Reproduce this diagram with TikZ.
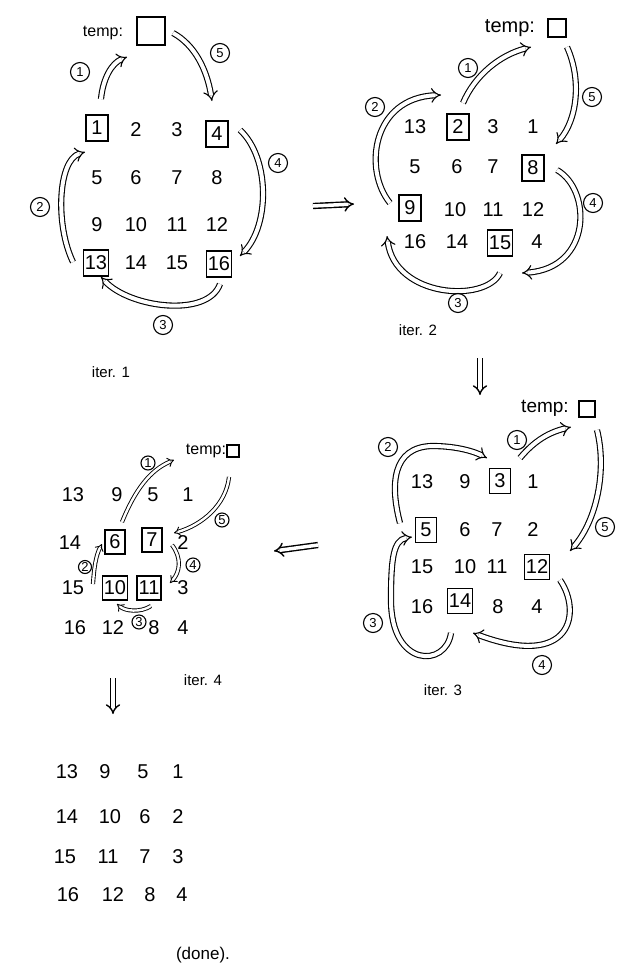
\documentclass[tikz,border=0pt]{standalone}
\usepackage{fontspec}
\setmainfont{Liberation Sans}
\usetikzlibrary{arrows.meta}
\begin{document}
\begin{tikzpicture}[x=1pt,y=-1pt,
  num/.style={font=\fontsize{20}{22}\selectfont, inner sep=0pt},
  boxed/.style={num, draw, line width=1.3pt, inner xsep=1.5pt, minimum width=#1, minimum height=#1+4pt},
  boxed/.default=22pt,
  tmpbox/.style={draw, line width=1.3pt, minimum size=#1, inner sep=0pt},
  lbl/.style={font=\fontsize{#1}{#1}\selectfont, inner sep=0pt},
  circ/.style={circle, draw, line width=1.1pt, inner sep=0pt, minimum size=#1, font=\fontsize{13}{14}\selectfont},
  circ/.default=19pt,
  flow/.style={double, double distance=4pt, line width=1.1pt, -{Implies[length=6pt]}},
  thinflow/.style={double, double distance=2.4pt, line width=0.9pt, -{Implies}},
  stepflow/.style={double, double distance=3.5pt, line width=1.4pt, -{Implies}}
]
\fill[white] (0,0) rectangle (631,980);
\useasboundingbox (0,0) rectangle (631,980);

% ================= iter 1 =================
\node[lbl=16] (t1) at (103,33) {temp:};
\node[tmpbox=28pt] (tb1) at (151,31) {};
\foreach \v/\x/\y in {2/136/130,3/177/130,5/97/178,6/136/178,7/177/178,8/217/178,
  9/97/225,10/136/225,11/177/225,12/217/225,14/136/263,15/177/263}
  \node[num] (g1v\v) at (\x,\y) {\v};
\foreach \v/\x/\y in {1/97/128,4/217/134,13/96/263,16/219/264}
  \node[boxed] (g1v\v) at (\x,\y) {\v};
\coordinate (i1a) at (101,99);  \coordinate (i1b) at (127,57);
\coordinate (i5a) at (173,33);  \coordinate (i5b) at (212,101);
\coordinate (i4a) at (240,130); \coordinate (i4b) at (240,256);
\coordinate (i3a) at (220,284); \coordinate (i3b) at (101,277);
\coordinate (i2a) at (73,262);  \coordinate (i2b) at (85,152);
\draw[flow] (i1a) .. controls (103,78) and (112,63) .. (i1b);
\draw[flow] (i5a) .. controls (195,45) and (207,70) .. (i5b);
\draw[flow] (i4a) .. controls (270,158) and (270,225) .. (i4b);
\draw[flow] (i3a) .. controls (208,318) and (130,308) .. (i3b);
\draw[flow] (i2a) .. controls (55,225) and (58,160) .. (i2b);
\node[circ] (c11) at (80,72) {1};
\node[circ] (c15) at (220,53) {5};
\node[circ] (c14) at (278,163) {4};
\node[circ] (c13) at (163,325) {3};
\node[circ] (c12) at (40,207) {2};
\node[lbl=15] (it1) at (111,372) {iter. 1};

% ================= iter 2 =================
\node[lbl=20] (t2) at (510,28) {temp:};
\node[tmpbox=18pt] (tb2) at (557,28) {};
\foreach \v/\x/\y in {13/415/127,3/493/127,1/533/127,5/415/167,6/457/167,7/493/167,
  10/455/210,11/493/210,12/533/210,16/415/242,14/457/242,4/537/242}
  \node[num] (g2v\v) at (\x,\y) {\v};
\foreach \v/\x/\y in {2/458/127,8/533/168,9/410/208,15/500/243}
  \node[boxed] (g2v\v) at (\x,\y) {\v};
\coordinate (j1a) at (463,103); \coordinate (j1b) at (531,47);
\coordinate (j5a) at (567,47);  \coordinate (j5b) at (556,144);
\coordinate (j4a) at (557,170); \coordinate (j4b) at (522,273);
\coordinate (j3a) at (500,273); \coordinate (j3b) at (387,236);
\coordinate (j2a) at (390,203); \coordinate (j2b) at (441,95);
\draw[flow] (j1a) .. controls (475,75) and (500,55) .. (j1b);
\draw[flow] (j5a) .. controls (582,80) and (577,120) .. (j5b);
\draw[flow] (j4a) .. controls (592,190) and (592,268) .. (j4b);
\draw[flow] (j3a) .. controls (486,303) and (395,298) .. (j3b);
\draw[flow] (j2a) .. controls (363,170) and (372,98) .. (j2b);
\node[circ] (c21) at (468,68) {1};
\node[circ] (c25) at (592,97) {5};
\node[circ] (c24) at (593,203) {4};
\node[circ] (c23) at (458,303) {3};
\node[circ] (c22) at (375,107) {2};
\node[lbl=15] (it2) at (418,330) {iter. 2};

% ================= iter 3 =================
\node[lbl=19] (t3) at (545,408) {temp:};
\node[tmpbox=16pt] (tb3) at (587,409) {};
\foreach \v/\x/\y in {13/422/482,9/465/482,1/533/482,6/465/530,7/497/530,2/533/530,
  15/422/567,10/465/567,11/497/567,16/422/607,8/498/607,4/537/607}
  \node[num] (g3v\v) at (\x,\y) {\v};
\foreach \v/\x/\y in {3/500/481,5/426/530,12/537/567,14/460/601}
  \node[boxed=21pt] (g3v\v) at (\x,\y) {\v};
\coordinate (k1a) at (520,458); \coordinate (k1b) at (571,427);
\coordinate (k5a) at (597,430); \coordinate (k5b) at (570,551);
\coordinate (k4a) at (560,580); \coordinate (k4b) at (473,633);
\coordinate (k3a) at (451,633); \coordinate (k3m) at (391,600); \coordinate (k3b) at (412,537);
\coordinate (k2a) at (400,523); \coordinate (k2m) at (432,446); \coordinate (k2b) at (487,458);
\draw[flow] (k1a) .. controls (535,440) and (550,432) .. (k1b);
\draw[flow] (k5a) .. controls (607,470) and (597,520) .. (k5b);
\draw[flow] (k4a) .. controls (582,612) and (572,670) .. (k4b);
\draw[flow] (k3a) .. controls (446,668) and (391,668) .. (k3m) .. controls (391,560) and (393,540) .. (k3b);
\draw[flow] (k2a) .. controls (390,485) and (392,447) .. (k2m) .. controls (458,446) and (475,452) .. (k2b);
\node[circ] (c31) at (517,440) {1};
\node[circ] (c35) at (605,527) {5};
\node[circ] (c34) at (542,665) {4};
\node[circ] (c33) at (373,623) {3};
\node[circ] (c32) at (388,447) {2};
\node[lbl=15] (it3) at (443,690) {iter. 3};

% ================= iter 4 =================
\node[lbl=16] (t4) at (206,451) {temp:};
\node[tmpbox=12pt] (tb4) at (233,451) {};
\foreach \v/\x/\y in {13/73/495,9/117/495,5/153/495,1/188/495,14/70/543,2/183/543,
  15/73/588,3/183/588,16/75/628,12/113/628,8/154/628,4/183/628}
  \node[num] (g4v\v) at (\x,\y) {\v};
\foreach \v/\x/\y in {6/115/542,7/152/540,10/115/588,11/149/588}
  \node[boxed=20pt] (g4v\v) at (\x,\y) {\v};
\coordinate (m1a) at (122,522); \coordinate (m1b) at (174,460);
\coordinate (m5a) at (229,477); \coordinate (m5b) at (174,533);
\coordinate (m4a) at (172,545); \coordinate (m4b) at (170,583);
\coordinate (m3a) at (151,606); \coordinate (m3b) at (117,604);
\coordinate (m2a) at (93,584);  \coordinate (m2b) at (102,544);
\draw[thinflow] (m1a) .. controls (135,490) and (150,470) .. (m1b);
\draw[thinflow] (m5a) .. controls (226,505) and (202,525) .. (m5b);
\draw[thinflow] (m4a) .. controls (182,558) and (180,572) .. (m4b);
\draw[thinflow] (m3a) .. controls (140,613) and (125,611) .. (m3b);
\draw[thinflow] (m2a) .. controls (94,568) and (96,555) .. (m2b);
\node[circ=14pt] (c41) at (148,463) {1};
\node[circ=14pt] (c45) at (222,520) {5};
\node[circ=14pt] (c44) at (193,565) {4};
\node[circ=14pt] (c43) at (139,622) {3};
\node[circ=13pt] (c42) at (85,567) {2};
\node[lbl=15] (it4) at (203,680) {iter. 4};

% ================= final =================
\foreach \v/\x/\y in {13/67/772,9/105/772,5/143/772,1/178/772,
  14/67/817,10/110/817,6/145/817,2/178/817,
  15/65/857,11/108/857,7/145/857,3/178/857,
  16/68/895,12/113/895,8/150/895,4/182/895}
  \node[num] (g5v\v) at (\x,\y) {\v};
\node[lbl=17] (done) at (203,955) {(done).};

% ================= steps between iterations =================
\coordinate (s1a) at (313,206); \coordinate (s1b) at (354,204);
\coordinate (s2a) at (480,358); \coordinate (s2b) at (480,395);
\coordinate (s3a) at (318,545); \coordinate (s3b) at (274,551);
\coordinate (s4a) at (113,678); \coordinate (s4b) at (113,714);
\draw[stepflow] (s1a) -- (s1b);
\draw[stepflow] (s2a) -- (s2b);
\draw[stepflow] (s3a) -- (s3b);
\draw[stepflow] (s4a) -- (s4b);
\end{tikzpicture}
\end{document}
